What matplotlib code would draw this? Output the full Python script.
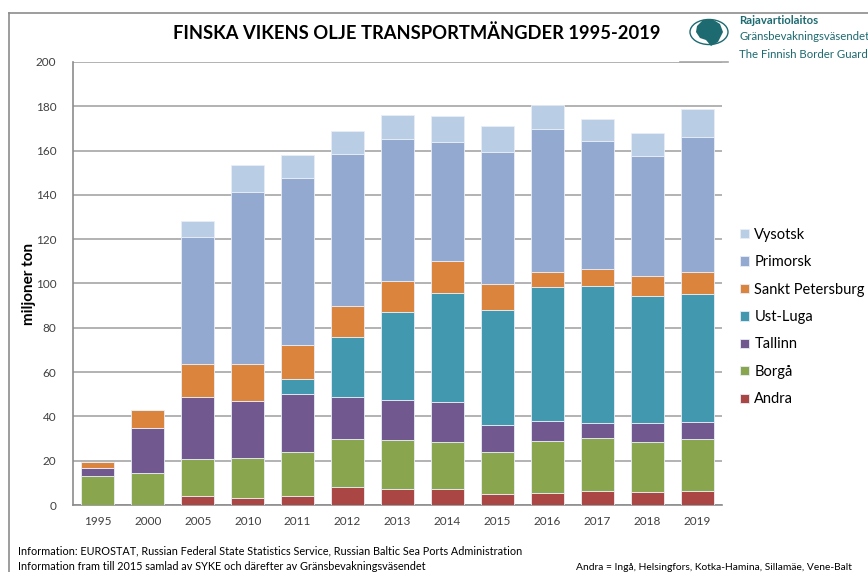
import matplotlib
matplotlib.use("Agg")
import matplotlib.pyplot as plt
from matplotlib.patches import Circle, Polygon
from matplotlib.lines import Line2D
import numpy as np

plt.rcParams["font.family"] = ["Lato", "DejaVu Sans"]

years = ["1995", "2000", "2005", "2010", "2011", "2012", "2013",
         "2014", "2015", "2016", "2017", "2018", "2019"]

# miljoner ton
andra = [0, 0, 3.9, 3.3, 3.9, 8.0, 7.1, 7.1, 4.8, 5.3, 6.5, 5.7, 6.5]
borga = [13.1, 14.6, 16.7, 18.1, 19.9, 22.0, 22.2, 21.3, 19.3, 23.6, 23.6, 22.7, 23.4]
tallinn = [3.5, 20.2, 28.0, 25.7, 26.3, 18.9, 18.1, 18.3, 12.0, 9.0, 7.1, 8.5, 7.6]
ust_luga = [0, 0, 0, 0, 6.6, 27.1, 39.9, 49.2, 51.9, 60.7, 61.8, 57.6, 57.8]
sankt_petersburg = [3.0, 8.1, 15.1, 16.6, 15.5, 14.0, 13.9, 14.1, 11.8, 6.7, 7.4, 9.0, 9.7]
primorsk = [0, 0, 57.4, 77.6, 75.4, 68.3, 63.9, 53.7, 59.6, 64.6, 57.8, 53.9, 61.3]
vysotsk = [0, 0, 7.1, 12.2, 10.4, 10.4, 11.1, 12.1, 11.7, 10.7, 10.2, 10.5, 12.5]

series = [
    ("Andra", andra, "#AA4643"),
    ("Borgå", borga, "#89A54E"),
    ("Tallinn", tallinn, "#71588F"),
    ("Ust-Luga", ust_luga, "#4198AF"),
    ("Sankt Petersburg", sankt_petersburg, "#DB843D"),
    ("Primorsk", primorsk, "#93A9CF"),
    ("Vysotsk", vysotsk, "#B9CDE5"),
]

W, H = 868, 572
fig = plt.figure(figsize=(W / 100, H / 100), dpi=100)


def fx(px):
    return px / W


def fy(py):
    return 1 - py / H


ax = fig.add_axes([fx(73), fy(505), fx(722) - fx(73), fy(62) - fy(505)])

x = np.arange(len(years))
bottom = np.zeros(len(years))
handles = []
for name, vals, col in series:
    vals = np.array(vals, dtype=float)
    b = ax.bar(x, vals, bottom=bottom, width=0.66, color=col,
               edgecolor="#E8EEF7", linewidth=0.6, label=name, zorder=3)
    handles.append(b)
    bottom += vals

ax.set_xlim(-0.5, len(years) - 0.5)
ax.set_ylim(0, 200)
ax.set_yticks(np.arange(0, 201, 20))
ax.set_xticks(x, years)
ax.grid(axis="y", color="#A6A6A6", linewidth=1.2, zorder=0)
ax.tick_params(axis="both", length=0, labelsize=8.5, colors="#404040")
ax.tick_params(axis="y", pad=12)
ax.tick_params(axis="x", pad=8)
for s in ["top", "right"]:
    ax.spines[s].set_visible(False)
for s in ["left", "bottom"]:
    ax.spines[s].set_color("#8C8C8C")
    ax.spines[s].set_linewidth(1.2)

ax.set_ylabel("miljoner ton", fontsize=11, fontweight="bold", labelpad=0)

leg = fig.legend(handles[::-1], [s[0] for s in series][::-1],
                 loc="upper left", bbox_to_anchor=(fx(734), fy(222)),
                 frameon=False, fontsize=10.5, handlelength=0.6,
                 handleheight=0.6, handletextpad=0.4, labelspacing=0.92,
                 borderaxespad=0)

fig.text(fx(417), fy(33), "FINSKA VIKENS OLJE TRANSPORTMÄNGDER 1995-2019",
         ha="center", va="center", fontsize=13.2, fontweight="bold")

# chart frame
fig.add_artist(Line2D([fx(9), fx(9)], [fy(13), 0], color="#8C8C8C", linewidth=1.2))
fig.add_artist(Line2D([fx(9), 1], [fy(13), fy(13)], color="#8C8C8C", linewidth=1.2))
fig.add_artist(Line2D([fx(680), fx(728)], [fy(62), fy(62)], color="#A6A6A6", linewidth=1.2))

# logo
teal = "#1D6A70"
fig.add_artist(Circle((fx(709), fy(32)), 19 / W, transform=fig.transFigure,
                      facecolor="white", edgecolor=teal, linewidth=1.0))
logo_pts = [(697, 26), (703, 20), (712, 19), (720, 24), (723, 32), (718, 42),
            (711, 46), (706, 40), (700, 38), (696, 32)]
fig.add_artist(Polygon([(fx(a), fy(b)) for a, b in logo_pts], closed=True,
                       transform=fig.transFigure, facecolor=teal, edgecolor="none"))
fig.text(fx(739), fy(20), "Rajavartiolaitos", fontsize=8.2, fontweight="bold",
         color=teal, va="center")
fig.text(fx(739), fy(37), "Gränsbevakningsväsendet", fontsize=8.2,
         color=teal, va="center")
fig.text(fx(739), fy(54), "The Finnish Border Guard", fontsize=8.2,
         color=teal, va="center")

# notes
fig.text(fx(18), fy(551), "Information: EUROSTAT, Russian Federal State Statistics Service, "
         "Russian Baltic Sea Ports Administration", fontsize=7.8, va="center")
fig.text(fx(18), fy(566), "Information fram till 2015 samlad av SYKE och därefter av "
         "Gränsbevakningsväsendet", fontsize=7.8, va="center")
fig.text(fx(576), fy(568), "Andra = Ingå, Helsingfors, Kotka-Hamina, Sillamäe, Vene-Balt",
         fontsize=7.4, va="center")

fig.savefig("out.png", dpi=100)
